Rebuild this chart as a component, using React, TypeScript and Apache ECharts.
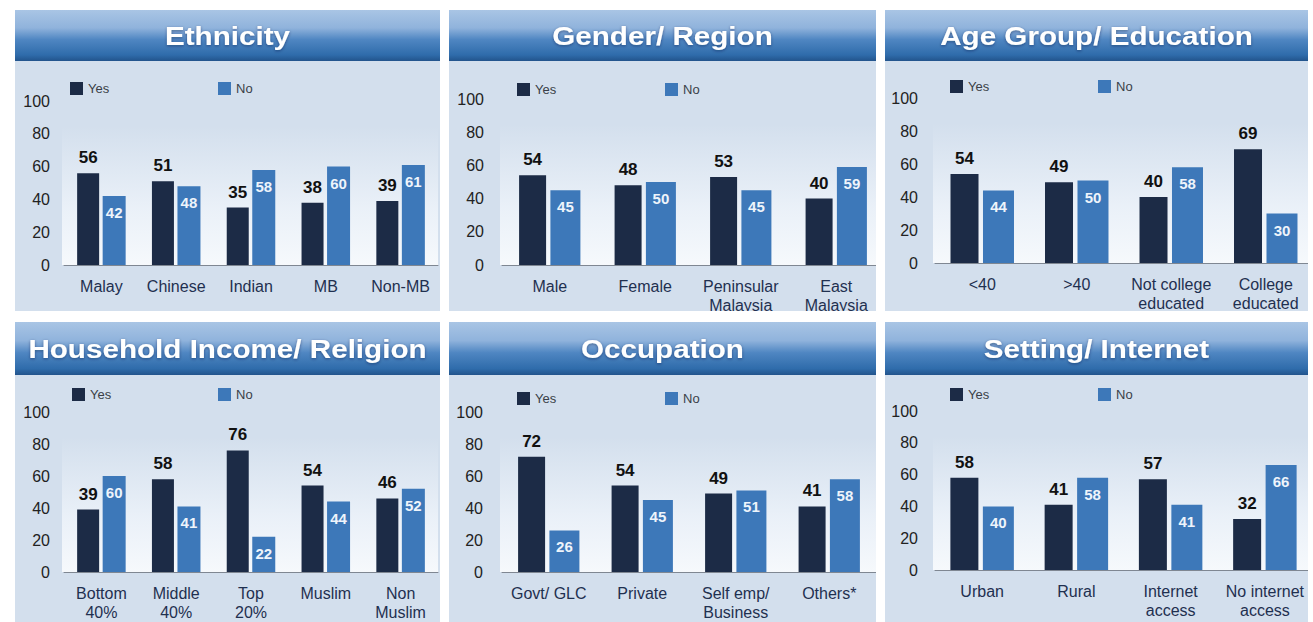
import React, { useEffect, useRef } from "react";
import * as echarts from "echarts";

const titles = ["Ethnicity", "Gender/ Region", "Age Group/ Education", "Household Income/ Religion", "Occupation", "Setting/ Internet"];

const ethnicityCats = ["Malay", "Chinese", "Indian", "MB", "Non-MB"];
const ethnicityYes = [56, 51, 35, 38, 39];
const ethnicityNo = [42, 48, 58, 60, 61];

const genderCats = ["Male", "Female", "Peninsular\nMalaysia", "East\nMalaysia"];
const genderYes = [54, 48, 53, 40];
const genderNo = [45, 50, 45, 59];

const ageCats = ["<40", ">40", "Not college\neducated", "College\neducated"];
const ageYes = [54, 49, 40, 69];
const ageNo = [44, 50, 58, 30];

const incomeCats = ["Bottom\n40%", "Middle\n40%", "Top\n20%", "Muslim", "Non\nMuslim"];
const incomeYes = [39, 58, 76, 54, 46];
const incomeNo = [60, 41, 22, 44, 52];

const occCats = ["Govt/ GLC", "Private", "Self emp/\nBusiness", "Others*"];
const occYes = [72, 54, 49, 41];
const occNo = [26, 45, 51, 58];

const settingCats = ["Urban", "Rural", "Internet\naccess", "No internet\naccess"];
const settingYes = [58, 41, 57, 32];
const settingNo = [40, 58, 41, 66];

const seriesNames = ["Yes", "No"];
const yMin = 0;
const yMax = 100;
const yStep = 20;

const panelData = [
  { cats: ethnicityCats, yes: ethnicityYes, no: ethnicityNo },
  { cats: genderCats, yes: genderYes, no: genderNo },
  { cats: ageCats, yes: ageYes, no: ageNo },
  { cats: incomeCats, yes: incomeYes, no: incomeNo },
  { cats: occCats, yes: occYes, no: occNo },
  { cats: settingCats, yes: settingYes, no: settingNo },
];

// layout (positions / sizes only)
const layouts = [
  { px: 15, pw: 425, hy: 10, hh: 51, by: 61, bh: 250, g: { left: 64, top: 101, width: 374, height: 164 }, ylm: 14, ly: 70, ln: 218, lt: 82, bw: [22, 23] },
  { px: 449, pw: 427, hy: 10, hh: 51, by: 61, bh: 250, g: { left: 502, top: 99, width: 382, height: 166 }, ylm: 18, ly: 517, ln: 665, lt: 83, bw: [27, 30] },
  { px: 885, pw: 423, hy: 10, hh: 51, by: 61, bh: 250, g: { left: 935, top: 98, width: 379, height: 165 }, ylm: 17, ly: 950, ln: 1098, lt: 80, bw: [28, 31] },
  { px: 15, pw: 425, hy: 322, hh: 53, by: 375, bh: 247, g: { left: 64, top: 412, width: 374, height: 160 }, ylm: 14, ly: 72, ln: 218, lt: 388, bw: [22, 23] },
  { px: 449, pw: 427, hy: 322, hh: 53, by: 375, bh: 247, g: { left: 502, top: 412, width: 374, height: 160 }, ylm: 19, ly: 517, ln: 665, lt: 392, bw: [27, 30] },
  { px: 885, pw: 423, hy: 322, hh: 53, by: 375, bh: 247, g: { left: 935, top: 411, width: 377, height: 159 }, ylm: 17, ly: 950, ln: 1098, lt: 388, bw: [28, 31] },
];

const FONT = "Arial, 'Liberation Sans', sans-serif";
const YES_COLOR = "#1c2b46";
const NO_COLOR = "#3d78b9";

export default function App() {
  const ref = useRef<HTMLDivElement>(null);
  useEffect(() => {
    if (!ref.current) return;
    const chart = echarts.init(ref.current, undefined, { renderer: "svg" });

    const graphics: any[] = [];
    layouts.forEach((L, i) => {
      graphics.push({
        type: "rect", z: -10, silent: true,
        shape: { x: L.px, y: L.by, width: L.pw, height: L.bh },
        style: { fill: "#d3dfed" },
      });
      graphics.push({
        type: "rect", z: -9, silent: true,
        shape: { x: L.g.left - 2, y: L.g.top + 25, width: Math.min(L.g.width + 2, L.px + L.pw - L.g.left + 2), height: L.g.height - 25 },
        style: {
          fill: new echarts.graphic.LinearGradient(0, 0, 0, 1, [
            { offset: 0, color: "rgba(240,245,251,0)" },
            { offset: 0.6, color: "rgba(240,245,251,0.8)" },
            { offset: 1, color: "rgba(246,249,252,1)" },
          ]),
        },
      });
      graphics.push({
        type: "rect", z: -8, silent: true,
        shape: { x: L.px, y: L.hy, width: L.pw, height: L.hh },
        style: {
          fill: new echarts.graphic.LinearGradient(0, 0, 0, 1, [
            { offset: 0, color: "#a9c5e5" },
            { offset: 0.35, color: "#90b3dc" },
            { offset: 0.58, color: "#4f86c2" },
            { offset: 0.88, color: "#2f6cab" },
            { offset: 1, color: "#22548c" },
          ]),
        },
      });
      graphics.push({
        type: "text", z: 50, silent: true,
        x: L.px + L.pw / 2, y: L.hy + L.hh / 2 + 1, scaleX: 1.14,
        style: {
          text: titles[i], fill: "#ffffff", font: `bold 26px ${FONT}`,
          textAlign: "center", textVerticalAlign: "middle",
          textShadowColor: "rgba(0,20,60,0.45)", textShadowBlur: 3, textShadowOffsetY: 1,
        },
      });
    });
    // white gaps between panels (clip overflowing axis lines / label lines)
    graphics.push({ type: "rect", z: 100, silent: true, shape: { x: 0, y: 311, width: 1313, height: 11 }, style: { fill: "#ffffff" } });
    graphics.push({ type: "rect", z: 100, silent: true, shape: { x: 440, y: 0, width: 9, height: 622 }, style: { fill: "#ffffff" } });
    graphics.push({ type: "rect", z: 100, silent: true, shape: { x: 876, y: 0, width: 9, height: 622 }, style: { fill: "#ffffff" } });
    graphics.push({ type: "rect", z: 100, silent: true, shape: { x: 1308, y: 0, width: 5, height: 622 }, style: { fill: "#ffffff" } });

    const legends: any[] = [];
    layouts.forEach((L) => {
      [L.ly, L.ln].forEach((lx, k) => {
        legends.push({
          data: [seriesNames[k]], left: lx, top: L.lt, padding: 0,
          icon: "rect", itemWidth: 13, itemHeight: 13, itemGap: 5,
          textStyle: { fontSize: 13, color: "#3a3f48", fontFamily: FONT },
          selectedMode: false,
        });
      });
    });

    const series: any[] = [];
    panelData.forEach((p, i) => {
      const L = layouts[i];
      series.push({
        type: "bar", name: seriesNames[0], xAxisIndex: i, yAxisIndex: i,
        data: p.yes, barWidth: L.bw[0], barGap: "16%",
        itemStyle: { color: YES_COLOR },
        label: { show: true, position: "top", distance: 7, color: "#111", fontSize: 17, fontWeight: "bold", fontFamily: FONT },
      });
      series.push({
        type: "bar", name: seriesNames[1], xAxisIndex: i, yAxisIndex: i,
        data: p.no, barWidth: L.bw[1], barGap: "16%",
        itemStyle: { color: NO_COLOR },
        label: { show: true, position: "insideTop", distance: 9, color: "#eef4fb", fontSize: 15, fontWeight: "bold", fontFamily: FONT },
      });
    });

    chart.setOption({
      animation: false,
      backgroundColor: "#ffffff",
      graphic: { elements: graphics },
      legend: legends,
      grid: layouts.map((L) => ({ ...L.g, containLabel: false })),
      xAxis: panelData.map((p, i) => ({
        type: "category", gridIndex: i, data: p.cats,
        axisLine: { show: true, lineStyle: { color: "#7f8792", width: 1 } },
        axisTick: { show: false },
        axisLabel: { interval: 0, color: "#1f3050", fontSize: 16, lineHeight: 19, margin: 12, fontFamily: FONT },
      })),
      yAxis: panelData.map((p, i) => ({
        type: "value", gridIndex: i, min: yMin, max: yMax, interval: yStep,
        axisLine: { show: false }, axisTick: { show: false }, splitLine: { show: false },
        axisLabel: { color: "#222", fontSize: 16, margin: layouts[i].ylm, fontFamily: FONT },
      })),
      series,
    });
    return () => chart.dispose();
  }, []);
  return <div ref={ref} style={{ position: "fixed", left: 0, top: 0, width: 1313, height: 622 }} />;
}
